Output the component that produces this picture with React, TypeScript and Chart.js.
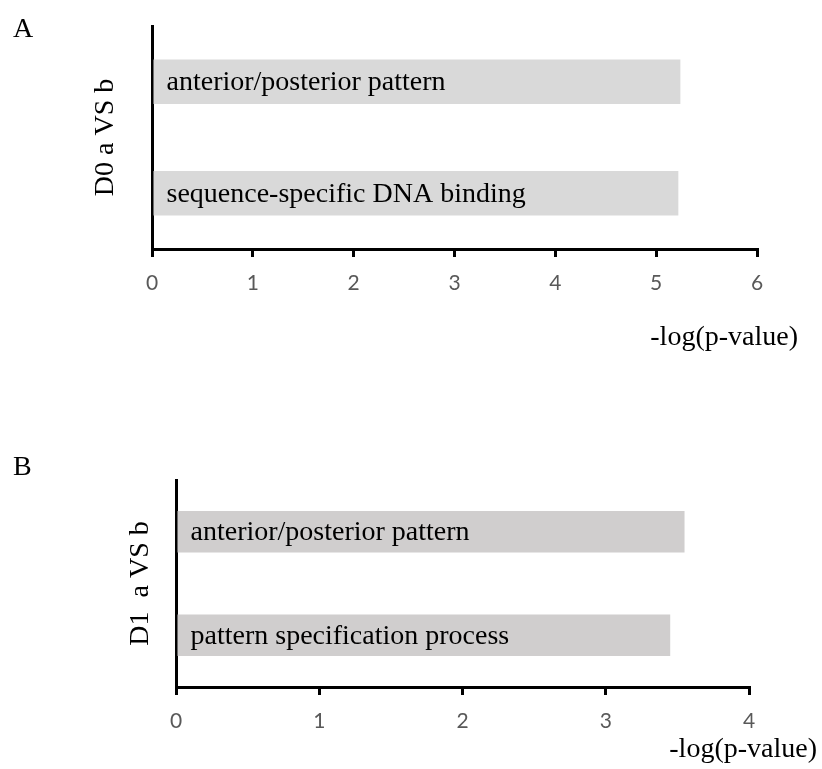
import React, { useEffect, useRef } from "react";
import { Chart, registerables } from "chart.js";

Chart.register(...registerables);

// Panel A data
const labelsA = ["anterior/posterior pattern", "sequence-specific DNA binding"];
const valuesA = [5.24, 5.22];
const ticksA = [0, 1, 2, 3, 4, 5, 6];
const yTitleA = "D0 a VS b";

// Panel B data
const labelsB = ["anterior/posterior pattern", "pattern specification process"];
const valuesB = [3.55, 3.45];
const ticksB = [0, 1, 2, 3, 4];
const yTitleB = "D1  a VS b";

const xTitle = "-log(p-value)";

const SERIF = "'Liberation Serif', 'Times New Roman', serif";
const SANS = "Lato, 'Open Sans', sans-serif";

type PanelCfg = {
  letter: string;
  labels: string[];
  values: number[];
  ticks: number[];
  yTitle: string;
  color: string;
  width: number;
  height: number;
  padTop: number;
  padRight: number;
  yWidth: number;
  xHeight: number;
  yTitlePad: number;
  letterY: number;
  xTitleX: number;
  xTitleY: number;
  labelOffset: number;
};

const panelA: PanelCfg = {
  letter: "A",
  labels: labelsA,
  values: valuesA,
  ticks: ticksA,
  yTitle: yTitleA,
  color: "#d9d9d9",
  width: 822,
  height: 370,
  padTop: 26,
  padRight: 65,
  yWidth: 152,
  xHeight: 121,
  yTitlePad: 89,
  letterY: 37,
  xTitleX: 798,
  xTitleY: 345,
  labelOffset: 13,
};

const panelB: PanelCfg = {
  letter: "B",
  labels: labelsB,
  values: valuesB,
  ticks: ticksB,
  yTitle: yTitleB,
  color: "#d0cece",
  width: 822,
  height: 389,
  padTop: 100,
  padRight: 73,
  yWidth: 176,
  xHeight: 82,
  yTitlePad: 124,
  letterY: 95,
  xTitleX: 817,
  xTitleY: 377,
  labelOffset: 13,
};

function Panel({ cfg, top }: { cfg: PanelCfg; top: number }) {
  const ref = useRef<HTMLCanvasElement | null>(null);
  useEffect(() => {
    if (!ref.current) return;
    const textPlugin = {
      id: "panelText",
      afterDatasetsDraw(chart: any) {
        const ctx = chart.ctx;
        ctx.save();
        // bar labels
        const meta = chart.getDatasetMeta(0);
        ctx.font = `28px ${SERIF}`;
        ctx.fillStyle = "#000";
        ctx.textAlign = "left";
        ctx.textBaseline = "middle";
        meta.data.forEach((bar: any, i: number) => {
          ctx.fillText(cfg.labels[i], bar.base + cfg.labelOffset, bar.y + 1);
        });
        // panel letter
        ctx.textBaseline = "alphabetic";
        ctx.fillText(cfg.letter, 13, cfg.letterY);
        // x title
        ctx.textAlign = "right";
        ctx.fillText(xTitle, cfg.xTitleX, cfg.xTitleY);
        ctx.restore();
      },
    };
    const chart = new Chart(ref.current, {
      type: "bar",
      data: {
        labels: cfg.labels,
        datasets: [
          {
            data: cfg.values,
            backgroundColor: cfg.color,
            borderWidth: 0,
            barPercentage: 0.4,
            categoryPercentage: 1,
          },
        ],
      },
      options: {
        indexAxis: "y",
        responsive: false,
        animation: false,
        layout: { padding: { top: cfg.padTop, right: cfg.padRight, left: 0, bottom: 0 } },
        plugins: {
          legend: { display: false },
          tooltip: { enabled: false },
          title: { display: false },
        },
        scales: {
          x: {
            type: "linear",
            min: cfg.ticks[0],
            max: cfg.ticks[cfg.ticks.length - 1],
            afterBuildTicks: (scale: any) => {
              scale.ticks = cfg.ticks.map((v) => ({ value: v }));
            },
            afterFit: (scale: any) => {
              scale.height = cfg.xHeight;
            },
            grid: {
              display: true,
              drawOnChartArea: false,
              drawTicks: true,
              tickLength: 8,
              tickWidth: 3,
              tickColor: "#000",
              color: "#000",
              lineWidth: 3,
            },
            border: { display: true, color: "#000", width: 3 },
            ticks: {
              color: "#595959",
              font: { family: SANS, size: 21 },
              padding: 14,
            },
          },
          y: {
            type: "category",
            afterFit: (scale: any) => {
              scale.width = cfg.yWidth;
            },
            grid: { display: false, drawTicks: false },
            border: { display: true, color: "#000", width: 3 },
            ticks: { display: false },
            title: {
              display: true,
              text: cfg.yTitle,
              color: "#000",
              font: { family: SERIF, size: 28 },
              padding: { top: cfg.yTitlePad, bottom: 0 },
            },
          },
        },
      },
      plugins: [textPlugin],
    } as any);
    return () => chart.destroy();
  }, [cfg]);
  return (
    <canvas
      ref={ref}
      width={cfg.width}
      height={cfg.height}
      style={{ position: "absolute", left: 0, top, display: "block" }}
    />
  );
}

export default function App() {
  return (
    <div
      style={{
        position: "absolute",
        left: 0,
        top: 0,
        width: 822,
        height: 769,
        background: "#fff",
        overflow: "hidden",
      }}
    >
      <Panel cfg={panelA} top={0} />
      <Panel cfg={panelB} top={380} />
    </div>
  );
}
